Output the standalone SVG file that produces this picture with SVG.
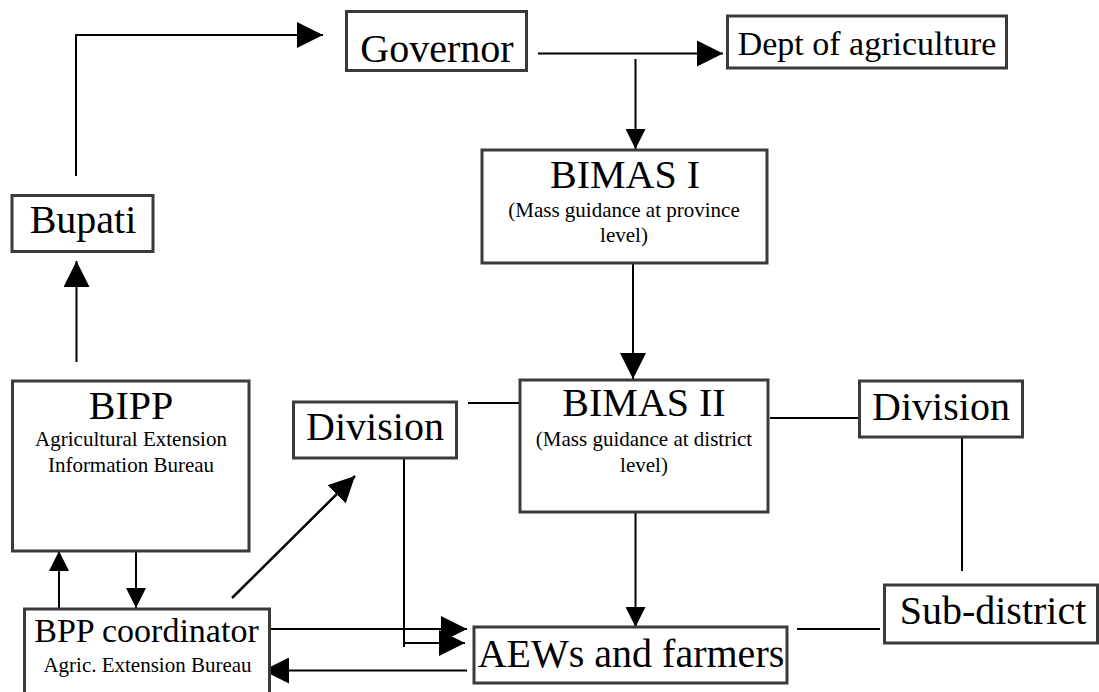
<svg xmlns="http://www.w3.org/2000/svg" width="1099" height="692" viewBox="0 0 1099 692">
<style>
.box{fill:#fff;stroke:#3a3a3a;stroke-width:3}
.ln{fill:none;stroke:#000;stroke-width:2}
</style>
<defs>
<marker id="ab" markerUnits="userSpaceOnUse" markerWidth="26" markerHeight="26" refX="26" refY="13" orient="auto"><path d="M0,0 L26,13 L0,26 z" fill="#000"/></marker>
<marker id="as" markerUnits="userSpaceOnUse" markerWidth="20" markerHeight="20" refX="20" refY="10" orient="auto"><path d="M0,0 L20,10 L0,20 z" fill="#000"/></marker>
</defs>
<rect width="1099" height="692" fill="#fff"/>
<g id="connectors">
<polyline class="ln" points="76,176 76,35 323,35" marker-end="url(#ab)"/>
<line class="ln" x1="538" y1="53.5" x2="723" y2="53.5" marker-end="url(#ab)"/>
<line class="ln" x1="635.5" y1="59" x2="635.5" y2="149" marker-end="url(#as)"/>
<line class="ln" x1="633" y1="263" x2="633" y2="379" marker-end="url(#ab)"/>
<line class="ln" x1="635.5" y1="512" x2="635.5" y2="627" marker-end="url(#as)"/>
<line class="ln" x1="76.5" y1="362" x2="76.5" y2="261" marker-end="url(#ab)"/>
<line class="ln" x1="59" y1="608" x2="59" y2="551" marker-end="url(#as)"/>
<line class="ln" x1="136" y1="551" x2="136" y2="608" marker-end="url(#as)"/>
<line class="ln" x1="232" y1="598" x2="355" y2="476" marker-end="url(#ab)" style="stroke-width:2.5"/>
<line class="ln" x1="269" y1="629" x2="467" y2="629" marker-end="url(#ab)"/>
<polyline class="ln" points="404,457 404,647"/>
<line class="ln" x1="404" y1="643" x2="465" y2="643" marker-end="url(#ab)"/>
<line class="ln" x1="467" y1="670.5" x2="263" y2="670.5" marker-end="url(#ab)"/>
<line class="ln" x1="468" y1="403" x2="529" y2="403"/>
<line class="ln" x1="770" y1="418" x2="865" y2="418"/>
<line class="ln" x1="962" y1="437" x2="962" y2="571"/>
<line class="ln" x1="797" y1="629" x2="880" y2="629"/>
</g>
<g text-anchor="middle" fill="#000">
<g id="governor"><rect class="box" x="346.5" y="11.5" width="180" height="59"/><text font-family="Liberation Serif" x="437" y="62" font-size="40">Governor</text></g>
<g id="dept"><rect class="box" x="727.5" y="16" width="279" height="52"/><text font-family="Liberation Serif" x="867" y="55" font-size="34">Dept of agriculture</text></g>
<g id="bimas1"><rect class="box" x="482" y="150" width="285" height="113"/><text font-family="Liberation Serif" x="625" y="188" font-size="40">BIMAS I</text><text font-family="Liberation Serif" x="624" y="217" font-size="21">(Mass guidance at province</text><text font-family="Liberation Serif" x="624" y="242" font-size="21">level)</text></g>
<g id="bimas2"><rect class="box" x="520" y="380" width="248" height="132"/><text font-family="Liberation Serif" x="644" y="416" font-size="40">BIMAS II</text><text font-family="Liberation Serif" x="644" y="446" font-size="21">(Mass guidance at district</text><text font-family="Liberation Serif" x="644" y="472" font-size="21">level)</text></g>
<g id="bupati"><rect class="box" x="12" y="195.5" width="141" height="56"/><text font-family="Liberation Serif" x="83" y="233" font-size="40">Bupati</text></g>
<g id="bipp"><rect class="box" x="12.5" y="381" width="236.5" height="170"/><text font-family="Liberation Serif" x="131" y="419" font-size="40">BIPP</text><text font-family="Liberation Serif" x="131" y="446" font-size="21">Agricultural Extension</text><text font-family="Liberation Serif" x="131" y="472" font-size="21">Information Bureau</text></g>
<g id="bpp"><rect class="box" x="24.5" y="609" width="245" height="95"/><text font-family="Liberation Serif" x="146.5" y="642" font-size="34">BPP coordinator</text><text font-family="Liberation Serif" x="147.5" y="672" font-size="21">Agric. Extension Bureau</text></g>
<g id="division-left"><rect class="box" x="293.5" y="402" width="163" height="56"/><text font-family="Liberation Serif" x="375" y="440" font-size="40">Division</text></g>
<g id="division-right"><rect class="box" x="859.5" y="381" width="163" height="56"/><text font-family="Liberation Serif" x="941" y="420" font-size="40">Division</text></g>
<g id="aews"><rect class="box" x="474" y="627" width="313" height="56"/><text font-family="Liberation Serif" x="631" y="667" font-size="40">AEWs and farmers</text></g>
<g id="subdistrict"><rect class="box" x="884.5" y="585" width="213" height="58"/><text font-family="Liberation Serif" x="993" y="624" font-size="40">Sub-district</text></g>
</g>
</svg>
